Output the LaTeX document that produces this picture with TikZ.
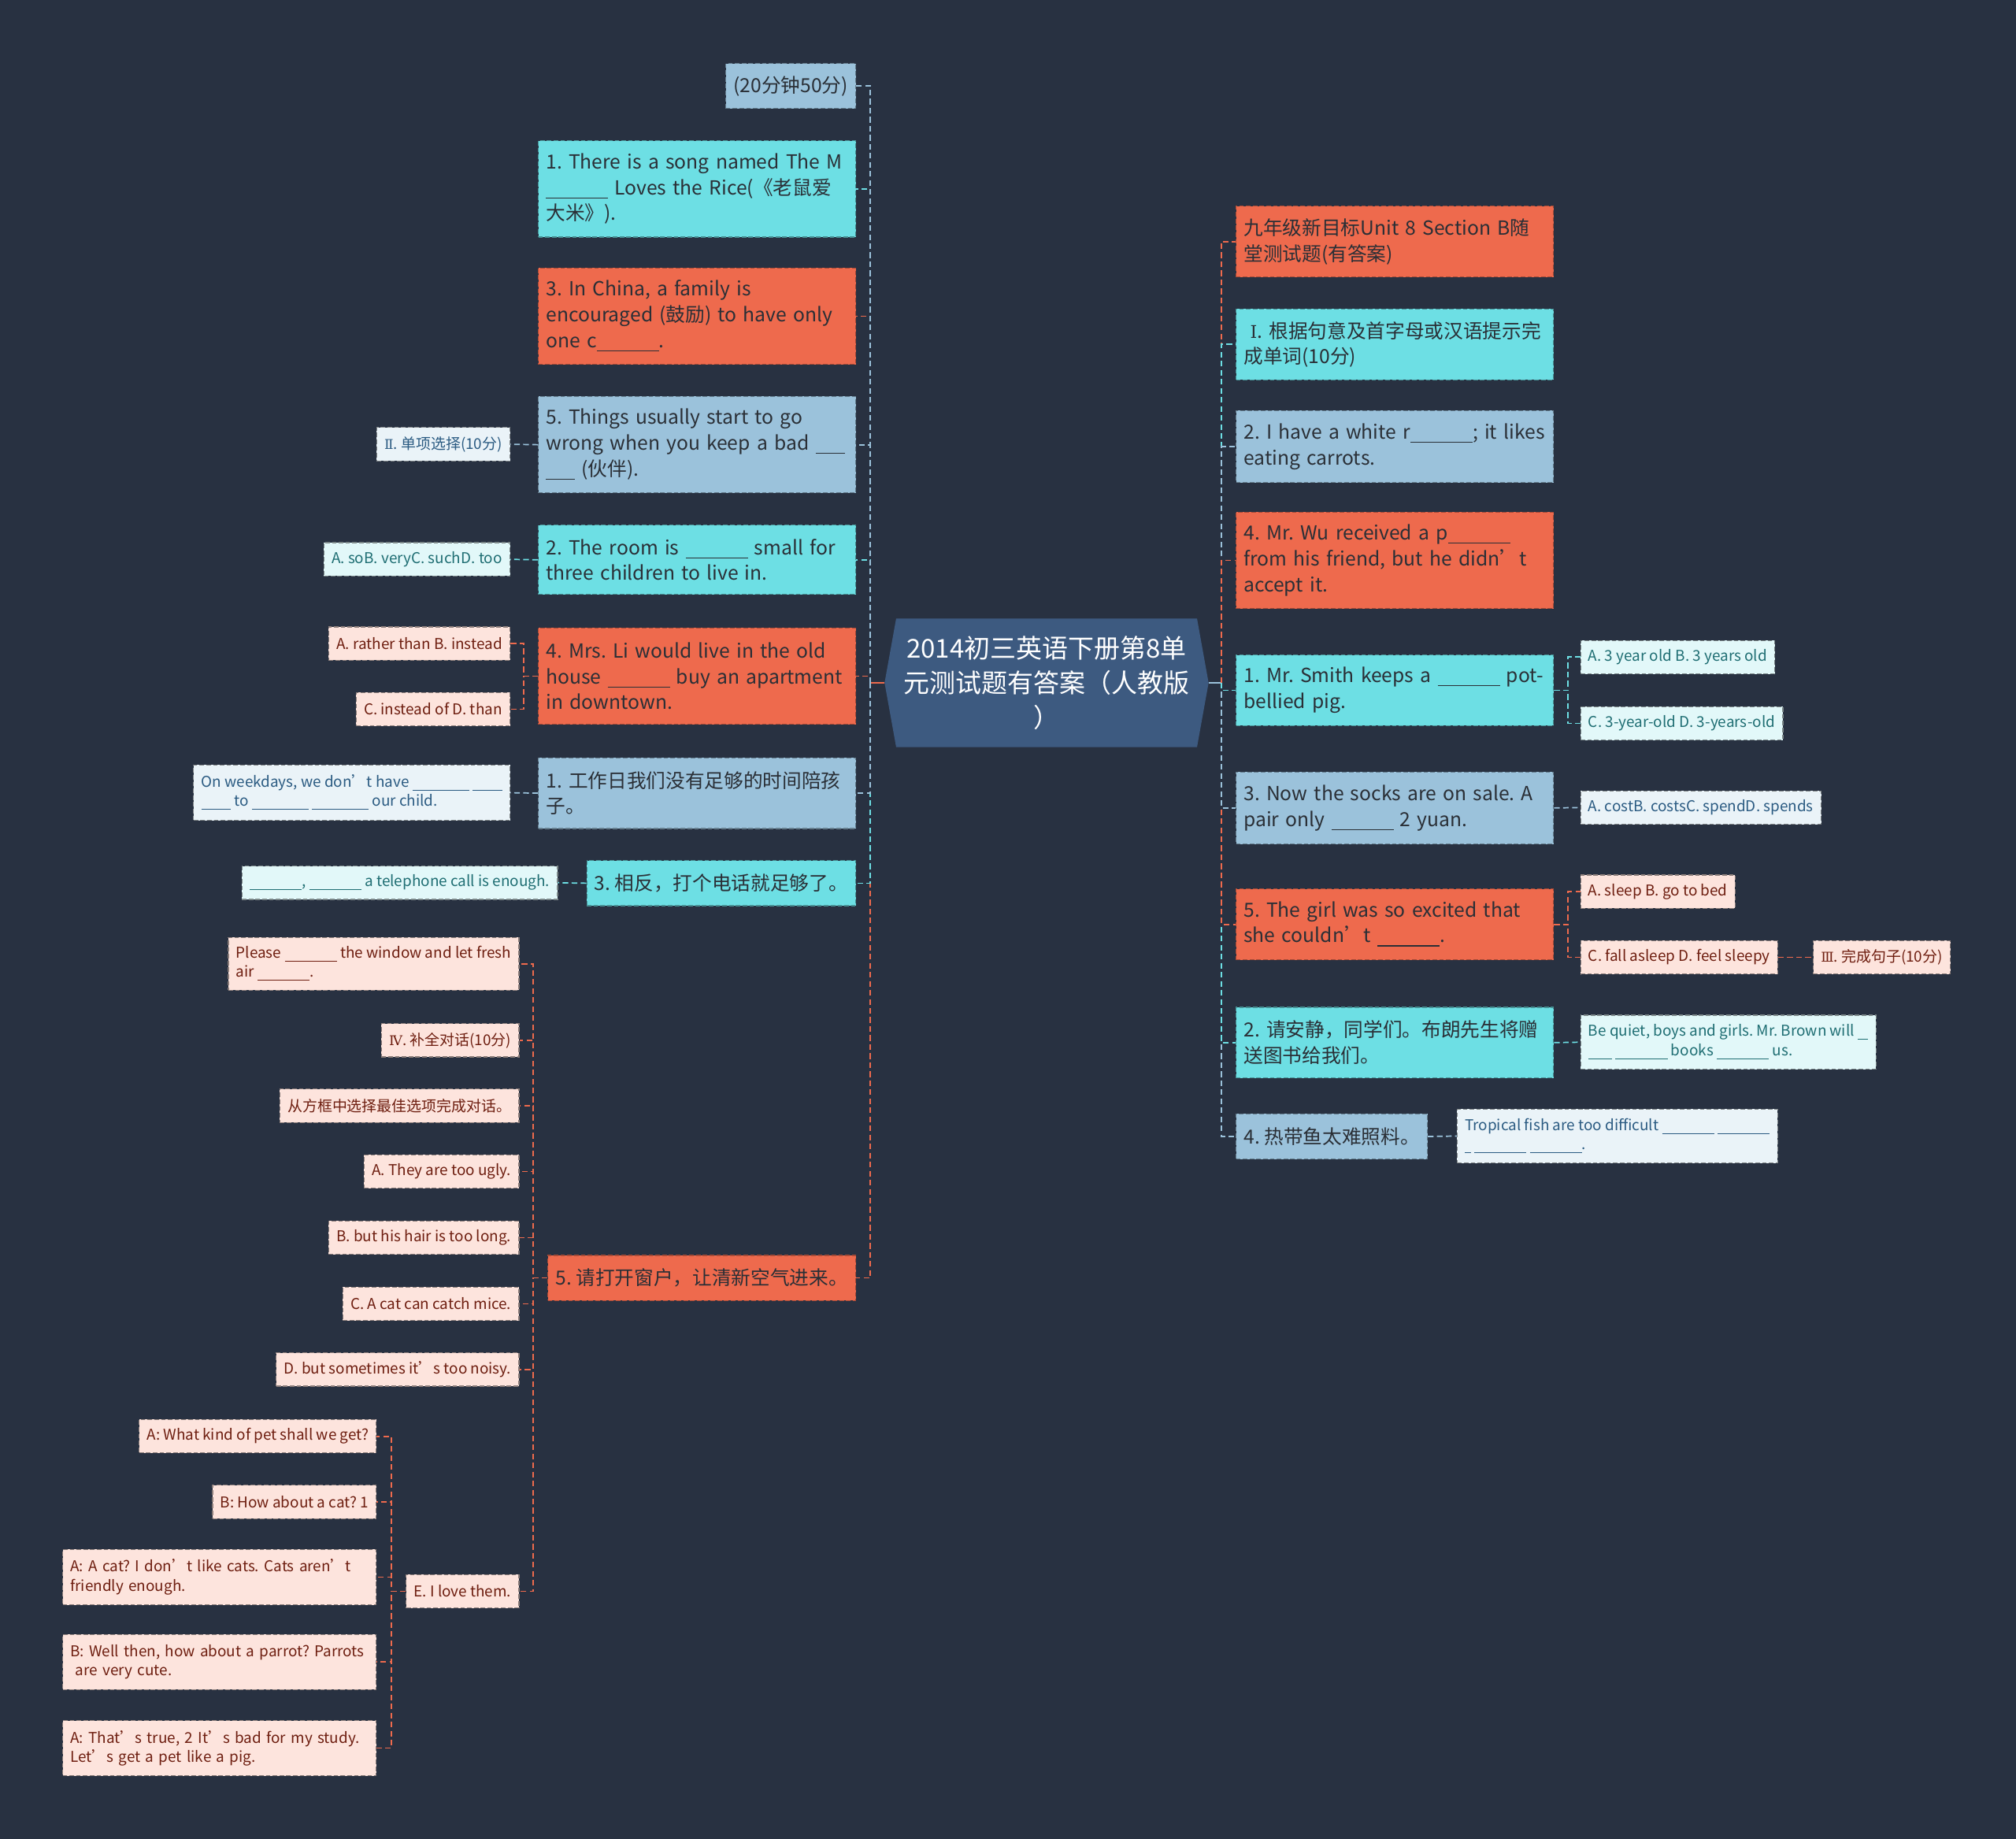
\documentclass[tikz,border=0pt]{standalone}
\usepackage{fontspec}
\setmainfont{Noto Sans CJK SC}
\newfontfamily\romfont{DejaVu Serif}

\definecolor{bgnavy}{HTML}{283141}
\definecolor{rootblue}{HTML}{3D5A80}
\definecolor{tomato}{HTML}{EE6A4D}
\definecolor{aqua}{HTML}{6DDFE4}
\definecolor{steel}{HTML}{9BC2DB}
\definecolor{aqualight}{HTML}{E2F8F9}
\definecolor{steellight}{HTML}{EAF3F8}
\definecolor{pinklight}{HTML}{FDE4DD}
\definecolor{inkdark}{HTML}{2A2F36}
\definecolor{inkteal}{HTML}{1F6E73}
\definecolor{inkblue}{HTML}{2B5B82}
\definecolor{inkred}{HTML}{6E1E10}

\newcommand{\fillin}[1][3.2em]{\underline{\hspace{#1}}}
\newcommand{\rom}[1]{{\romfont\fontsize{0.9em}{1em}\selectfont #1}}

\tikzset{
  box/.style={rectangle, dashed, dash pattern=on 2pt off 1pt, line width=0.4pt,
    inner xsep=0.12cm, inner ysep=0pt, align=left},
  big/.style={box, font=\fontsize{8.6}{11.4}\selectfont\frenchspacing, text=inkdark},
  wide/.style={text width=4.7cm},
  tomatobox/.style={big, fill=tomato, draw=tomato!70!black},
  aquabox/.style={big, fill=aqua, draw=aqua!65!black},
  steelbox/.style={big, fill=steel, draw=steel!65!black},
  small/.style={box, inner xsep=0.12cm, font=\fontsize{6.6}{8.5}\selectfont\frenchspacing, minimum height=0.52cm},
  aquatag/.style={small, fill=aqualight, draw=aqualight!55!black, text=inkteal},
  steeltag/.style={small, fill=steellight, draw=steellight!55!black, text=inkblue},
  pinktag/.style={small, fill=pinklight, draw=pinklight!55!black, text=inkred},
  roottext/.style={align=center, text=white, font=\fontsize{11.5}{15.3}\selectfont,
    minimum width=4.72cm, minimum height=2cm},
  link/.style={line width=0.6pt, dash pattern=on 2.5pt off 1.5pt},
}

\begin{document}
\begin{tikzpicture}
    \pgfsetxvec{\pgfpoint{0.02cm}{0}}
    \pgfsetyvec{\pgfpoint{0}{-0.02cm}}

    \fill[bgnavy] (0,0) rectangle (1568,1430);
    \useasboundingbox (0,0) rectangle (1568,1430);

    % centre
    \fill[rootblue] (688,531) -- (697,481) -- (931,481) -- (940,531) -- (931,581) -- (697,581) -- cycle;
    \node[roottext] (root) at (814,531) {2014初三英语下册第8单\\元测试题有答案（人教版\\）};
    \coordinate (rootL) at (688,531);
    \coordinate (rootR) at (940,531);
    \coordinate (lhub) at (677,531);
    \coordinate (rhub) at (950,531);

    % left branches
    \node[steelbox, anchor=north east, minimum height=0.7cm] (l1) at (666,49) {(20分钟50分)};
    \node[aquabox, wide, anchor=north east, minimum height=1.5cm] (l2) at (666,109)
      {1. There is a song named The M\\\fillin{} Loves the Rice(《老鼠爱\\大米》).};
    \node[tomatobox, wide, anchor=north east, minimum height=1.5cm] (l3) at (666,208)
      {3. In China, a family is\\encouraged (鼓励) to have only\\one c\fillin.};
    \node[steelbox, wide, anchor=north east, minimum height=1.5cm] (l4) at (666,308)
      {5. Things usually start to go\\wrong when you keep a bad \fillin[1.5em]\\\fillin[1.5em] (伙伴).};
    \node[aquabox, wide, anchor=north east, minimum height=1.08cm] (l5) at (666,408)
      {2. The room is \fillin{} small for\\three children to live in.};
    \node[tomatobox, wide, anchor=north east, minimum height=1.5cm] (l6) at (666,488)
      {4. Mrs. Li would live in the old\\house \fillin{} buy an apartment\\in downtown.};
    \node[steelbox, wide, anchor=north east, minimum height=1.1cm] (l7) at (666,589)
      {1. 工作日我们没有足够的时间陪孩\\子。};
    \node[aquabox, anchor=north east, minimum height=0.7cm] (l8) at (666,669) {3. 相反，打个电话就足够了。};
    \node[tomatobox, anchor=north east, minimum height=0.7cm] (l9) at (666,976) {5. 请打开窗户，让清新空气进来。};

    \node[steeltag, anchor=east] (l4a) at (397,345.5) {\rom{Ⅱ}. 单项选择(10分)};
    \node[aquatag, anchor=east] (l5a) at (397,435) {A. soB. veryC. suchD. too};
    \node[pinktag, anchor=east] (l6a) at (397,500.5) {A. rather than B. instead};
    \node[pinktag, anchor=east] (l6b) at (397,551.5) {C. instead of D. than};
    \node[steeltag, anchor=east, minimum height=0.86cm] (l7a) at (397,616.5)
      {On weekdays, we don’t have \fillin[3.8em] \fillin[2em]\\\fillin[2em] to \fillin[3.8em] \fillin[3.8em] our child.};
    \node[aquatag, anchor=east] (l8a) at (434,686.5) {\fillin[3.5em], \fillin[3.5em] a telephone call is enough.};

    \node[pinktag, anchor=east, minimum height=0.82cm] (l9a) at (404,749.5)
      {Please \fillin[3.5em] the window and let fresh\\air \fillin[3.5em].};
    \node[pinktag, anchor=east] (l9b) at (404,809) {\rom{Ⅳ}. 补全对话(10分)};
    \node[pinktag, anchor=east] (l9c) at (404,860) {从方框中选择最佳选项完成对话。};
    \node[pinktag, anchor=east] (l9d) at (404,911) {A. They are too ugly.};
    \node[pinktag, anchor=east] (l9e) at (404,962.5) {B. but his hair is too long.};
    \node[pinktag, anchor=east] (l9f) at (404,1014) {C. A cat can catch mice.};
    \node[pinktag, anchor=east] (l9g) at (404,1065) {D. but sometimes it’s too noisy.};
    \node[pinktag, anchor=east] (l9h) at (404,1237.5) {E. I love them.};

    \node[pinktag, anchor=east] (d1) at (293,1117) {A: What kind of pet shall we get?};
    \node[pinktag, anchor=east] (d2) at (293,1168) {B: How about a cat? 1};
    \node[pinktag, anchor=east, minimum height=0.86cm, text width=4.64cm] (d3) at (293,1226.5)
      {A: A cat? I don’t like cats. Cats aren’t\\friendly enough.};
    \node[pinktag, anchor=east, minimum height=0.86cm, text width=4.64cm] (d4) at (293,1292.5)
      {B: Well then, how about a parrot? Parrots\\\ are very cute.};
    \node[pinktag, anchor=east, minimum height=0.86cm, text width=4.64cm] (d5) at (293,1359.5)
      {A: That’s true, 2 It’s bad for my study.\\Let’s get a pet like a pig.};

    % right branches
    \node[tomatobox, wide, anchor=north west, minimum height=1.1cm] (r1) at (961,160)
      {九年级新目标Unit 8 Section B随\\堂测试题(有答案)};
    \node[aquabox, wide, anchor=north west, minimum height=1.1cm] (r2) at (961,240)
      {\ \rom{Ⅰ}. 根据句意及首字母或汉语提示完\\成单词(10分)};
    \node[steelbox, wide, anchor=north west, minimum height=1.12cm] (r3) at (961,319)
      {2. I have a white r\fillin; it likes\\eating carrots.};
    \node[tomatobox, wide, anchor=north west, minimum height=1.5cm] (r4) at (961,398)
      {4. Mr. Wu received a p\fillin\\from his friend, but he didn’t\\accept it.};
    \node[aquabox, wide, anchor=north west, minimum height=1.1cm] (r5) at (961,509)
      {1. Mr. Smith keeps a \fillin{} pot-\\bellied pig.};
    \node[steelbox, wide, anchor=north west, minimum height=1.12cm] (r6) at (961,600)
      {3. Now the socks are on sale. A\\pair only \fillin{} 2 yuan.};
    \node[tomatobox, wide, anchor=north west, minimum height=1.1cm] (r7) at (961,691)
      {5. The girl was so excited that\\she couldn’t \fillin.};
    \node[aquabox, wide, anchor=north west, minimum height=1.1cm] (r8) at (961,783)
      {2. 请安静，同学们。布朗先生将赠\\送图书给我们。};
    \node[steelbox, anchor=north west, minimum height=0.7cm] (r9) at (961,866) {4. 热带鱼太难照料。};

    \node[aquatag, anchor=west] (r5a) at (1229,511) {A. 3 year old B. 3 years old};
    \node[aquatag, anchor=west] (r5b) at (1229,562.5) {C. 3-year-old D. 3-years-old};
    \node[steeltag, anchor=west] (r6a) at (1229,628) {A. costB. costsC. spendD. spends};
    \node[pinktag, anchor=west] (r7a) at (1229,693.5) {A. sleep B. go to bed};
    \node[pinktag, anchor=west] (r7b) at (1229,744.5) {C. fall asleep D. feel sleepy};
    \node[pinktag, anchor=west] (r7c) at (1410,744.5) {\rom{Ⅲ}. 完成句子(10分)};
    \node[aquatag, anchor=west, minimum height=0.84cm] (r8a) at (1229,810.5)
      {Be quiet, boys and girls. Mr. Brown will \fillin[0.7em]\\\fillin[1.6em] \fillin[3.5em] books \fillin[3.5em] us.};
    \node[steeltag, anchor=west, minimum height=0.84cm] (r9a) at (1133,883.5)
      {Tropical fish are too difficult \fillin[3.5em] \fillin[3.5em]\\\fillin[0.4em] \fillin[3.5em] \fillin[3.5em].};

    % links
    \draw[line width=0.6pt, tomato] (rootL) -- (lhub);
    \draw[line width=0.6pt, steel] (rootR) -- (rhub);
    \foreach \n/\c in {l9/tomato,l8/aqua,l7/steel,l6/tomato,l5/aqua,l4/steel,l3/tomato,l2/aqua,l1/steel}
      \draw[link,\c] (lhub) |- (\n.east);
    \foreach \n/\c in {r1/tomato,r2/aqua,r3/steel,r4/tomato,r9/steel,r8/aqua,r7/tomato,r6/steel,r5/aqua}
      \draw[link,\c] (rhub) |- (\n.west);

    \draw[link,steel] (l4.west) -- (l4a.east);
    \draw[link,aqua] (l5.west) -- (l5a.east);
    \foreach \t in {l6a,l6b}
      \draw[link,tomato] (l6.west) -- ++(-11,0) |- (\t.east);
    \draw[link,steel] (l7.west) -- (l7a.east);
    \draw[link,aqua] (l8.west) -- (l8a.east);
    \foreach \t in {l9a,l9b,l9c,l9d,l9e,l9f,l9g,l9h}
      \draw[link,tomato] (l9.west) -- ++(-11,0) |- (\t.east);
    \foreach \t in {d1,d2,d3,d4,d5}
      \draw[link,tomato] (l9h.west) -- ++(-11,0) |- (\t.east);

    \foreach \t in {r5a,r5b}
      \draw[link,aqua] (r5.east) -- ++(11,0) |- (\t.west);
    \draw[link,steel] (r6.east) -- (r6a.west);
    \foreach \t in {r7a,r7b}
      \draw[link,tomato] (r7.east) -- ++(11,0) |- (\t.west);
    \draw[link,tomato] (r7b.east) -- (r7c.west);
    \draw[link,aqua] (r8.east) -- (r8a.west);
    \draw[link,steel] (r9.east) -- (r9a.west);
\end{tikzpicture}
\end{document}
